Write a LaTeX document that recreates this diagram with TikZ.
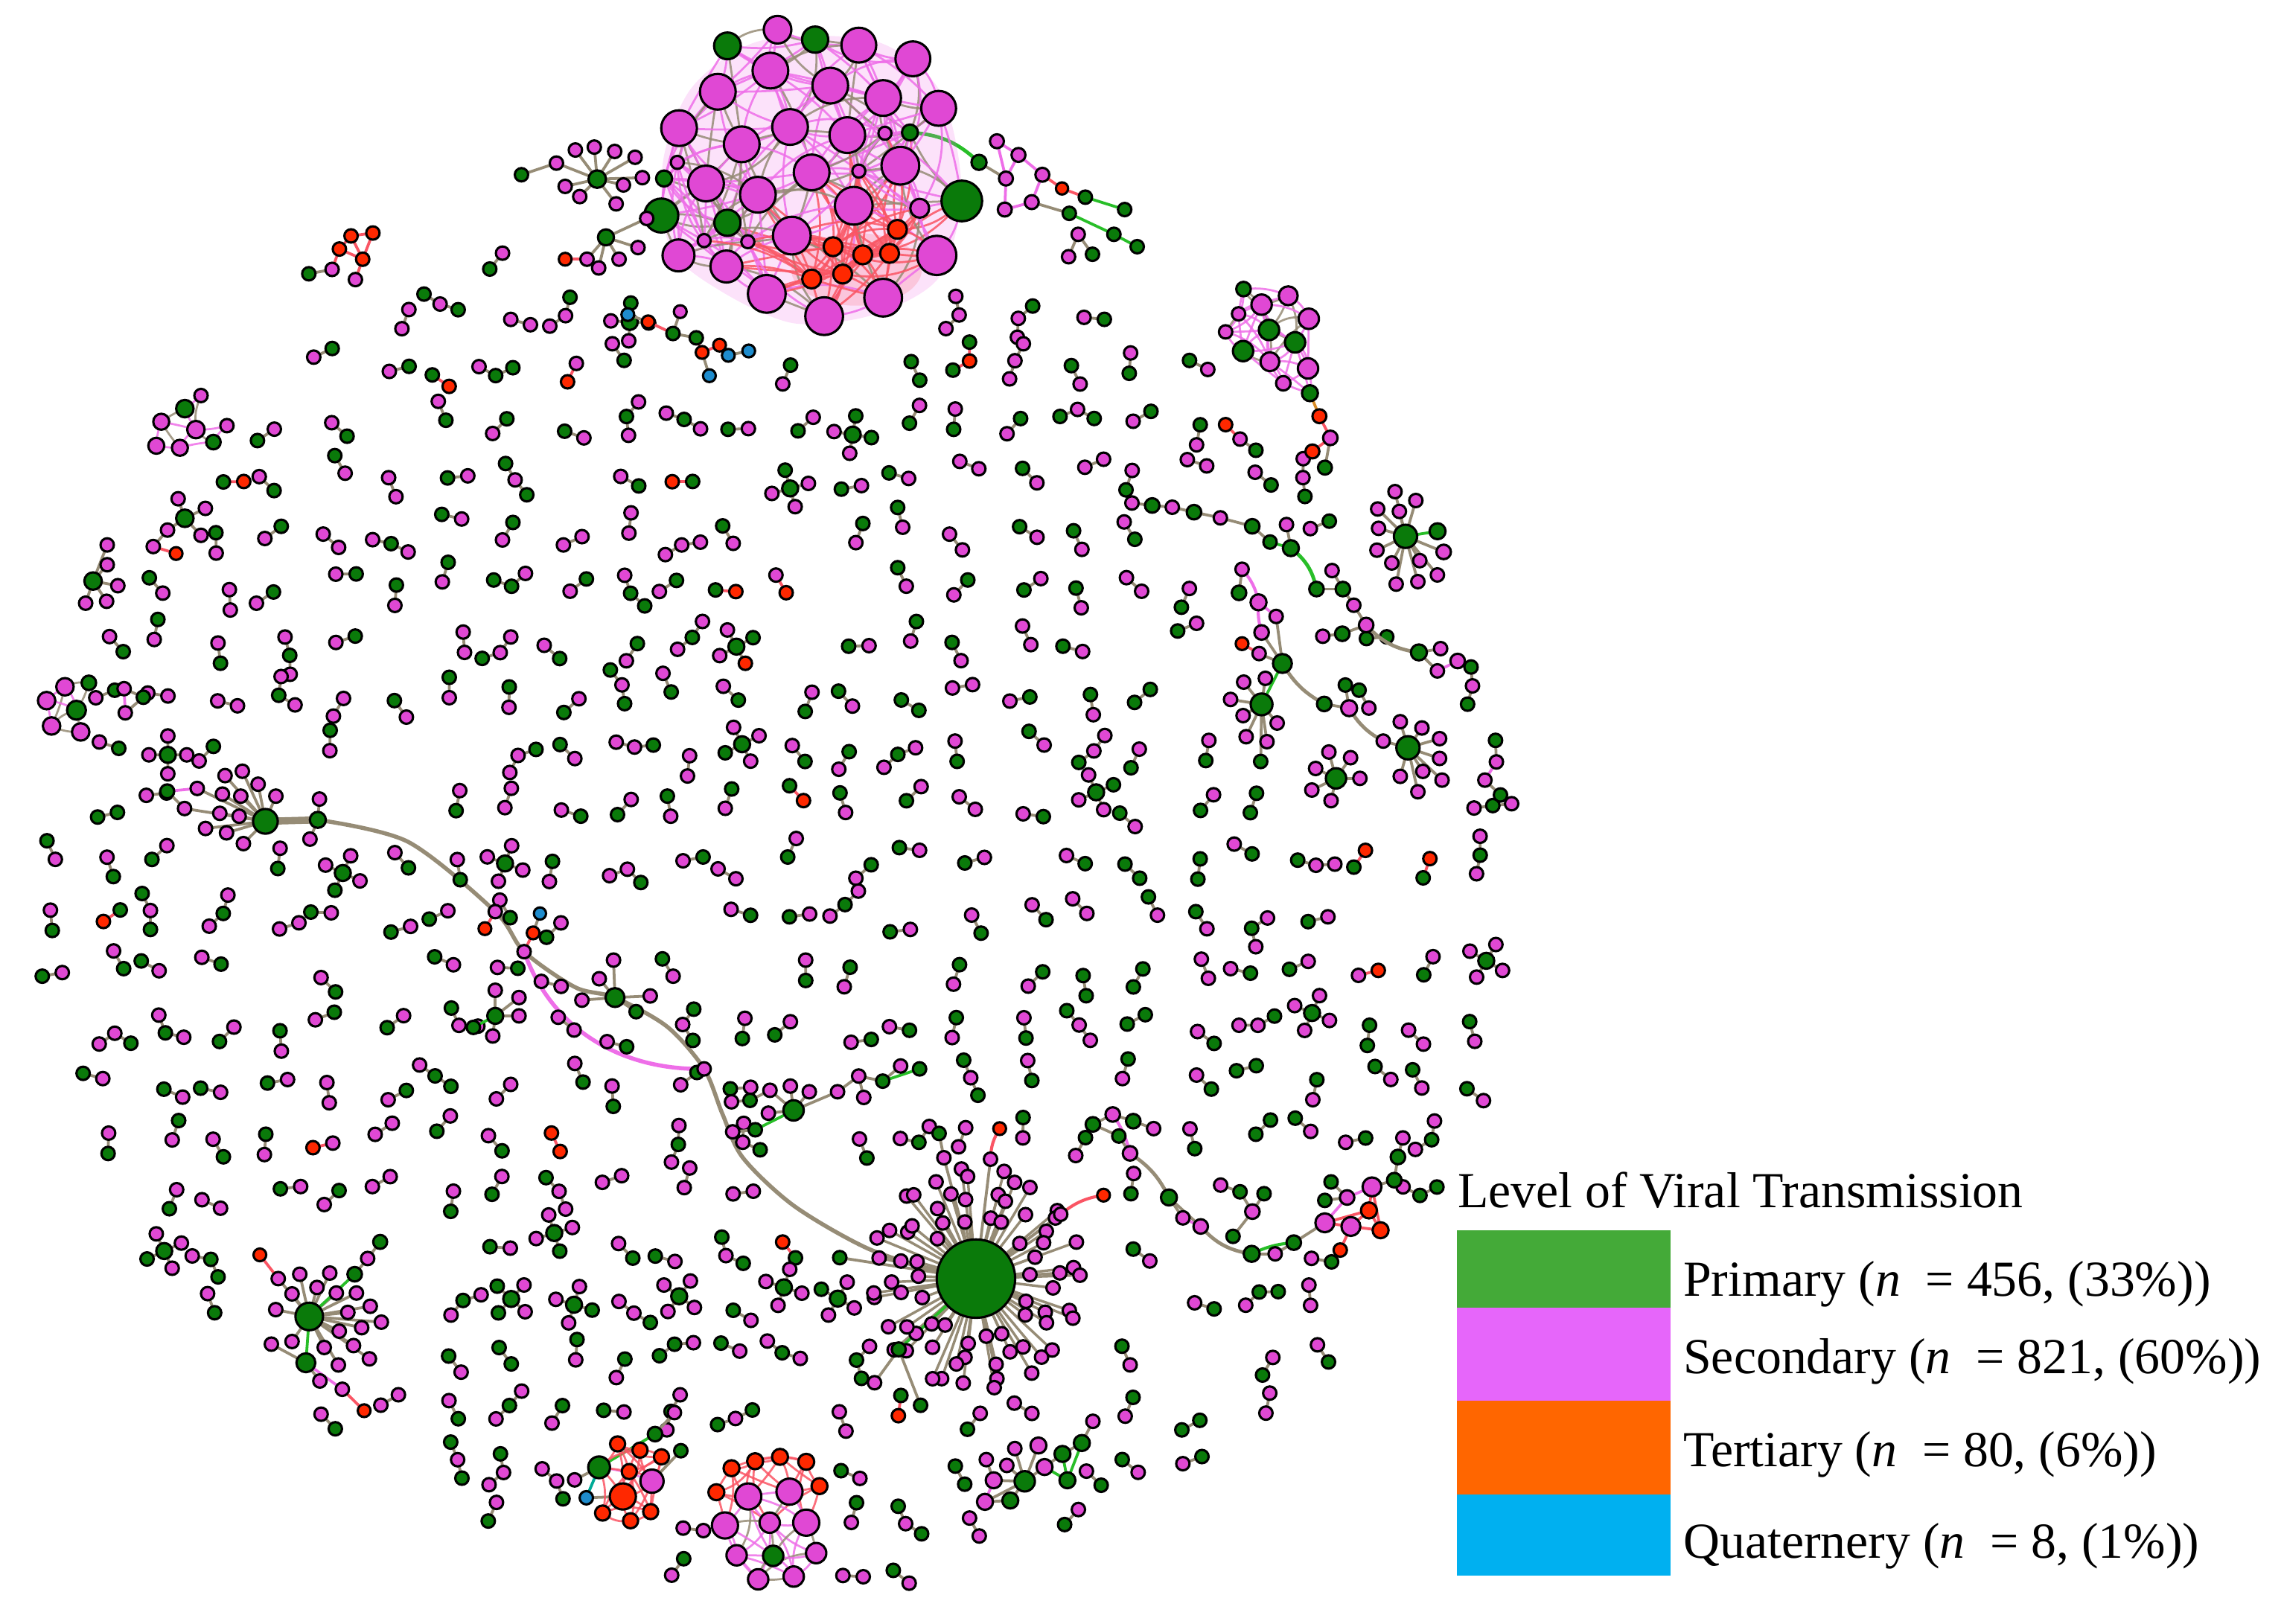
\documentclass[tikz,border=0pt]{standalone}
\usepackage{fontspec}
\setmainfont{Liberation Serif}
\definecolor{ng}{RGB}{10,122,10}
\definecolor{np}{RGB}{224,72,212}
\definecolor{nr}{RGB}{255,40,0}
\definecolor{nb}{RGB}{30,140,205}
\definecolor{eb}{RGB}{150,140,118}
\definecolor{ep}{RGB}{238,110,232}
\definecolor{er}{RGB}{250,85,100}
\definecolor{eg}{RGB}{40,190,40}
\definecolor{eo}{RGB}{215,140,40}
\definecolor{et}{RGB}{0,170,150}
\definecolor{lg}{RGB}{68,170,56}
\definecolor{lp}{RGB}{230,102,250}
\definecolor{lo}{RGB}{255,102,0}
\definecolor{lb}{RGB}{0,176,240}
% node: x, y, radius (px), colour code 1 green 2 pink 3 red 4 blue
\newcommand\nd[4]{\ifcase#4\or\def\fc{ng}\or\def\fc{np}\or\def\fc{nr}\or\def\fc{nb}\fi
  \filldraw[fill=\fc,draw=black,line width=0.45pt] (#1,#2) circle[radius=#3*0.2835pt];}
\newcommand\ndl[1]{\foreach \qx/\qy/\qr/\qc in {#1}{\nd{\qx}{\qy}{\qr}{\qc}}}
\newcommand\edl[2]{\foreach \qx/\qy/\qu/\qv in {#2}{\draw[#1,line width=0.55pt] (\qx,\qy)--(\qu,\qv);}}
\newcommand\hub[3]{\foreach \qx/\qy in {#3}{\draw[eb,line width=0.55pt] (#1,#2)--(\qx,\qy);}}
\newcommand\mesh[3]{%
 \foreach \xa/\ya/\ra/\ca [count=\i] in {#1}{%
  \foreach \xb/\yb/\rb/\cb [count=\j] in {#1}{%
   \ifnum\j>\i\relax
    \pgfmathtruncatemacro\dd{veclen(\xa-\xb,\ya-\yb)}%
    \ifnum\dd<#2\relax
     \pgfmathsetmacro\qq{rnd}\pgfmathsetmacro\bb{#3*rand}%
     \def\ec{ep}\ifdim\qq pt<0.28pt\def\ec{eb}\fi
     \ifnum\ca=3 \def\ec{er}\fi\ifnum\cb=3 \def\ec{er}\fi
     \draw[\ec,line width=0.4pt,opacity=0.85] (\xa,\ya) to[bend left=\bb] (\xb,\yb);
    \fi
   \fi}}%
 \foreach \xa/\ya/\ra/\ca in {#1}{\nd{\xa}{\ya}{\ra}{\ca}}}
\newcommand\rcol[1]{\pgfmathsetmacro\myr{rnd}%
 \ifdim\myr pt<0.45pt\def#1{1}\else\ifdim\myr pt<0.98pt\def#1{2}\else\def#1{3}\fi\fi}
\newcommand\rcolnext[2]{\pgfmathsetmacro\myr{rnd}%
 \ifnum#2=1 \ifdim\myr pt<0.82pt\def#1{2}\else\ifdim\myr pt<0.98pt\def#1{1}\else\def#1{3}\fi\fi
 \else\ifdim\myr pt<0.64pt\def#1{1}\else\ifdim\myr pt<0.975pt\def#1{2}\else\def#1{3}\fi\fi\fi}
\newcommand\edc[2]{\def\ec{eb}\ifnum#1=3 \def\ec{er}\fi\ifnum#2=3 \def\ec{er}\fi}
\newcommand\rcomp{%
 \pgfmathsetmacro\myang{360*rnd}%
 \pgfmathsetmacro\mytyp{rnd}%
 \ifdim\mytyp pt<0.70pt\relax
  \pgfmathsetmacro\pxa{\cx+7*cos(\myang)}\pgfmathsetmacro\pya{\cy+7*sin(\myang)}%
  \pgfmathsetmacro\pxb{\cx-7*cos(\myang)}\pgfmathsetmacro\pyb{\cy-7*sin(\myang)}%
  \rcol\colA\rcolnext\colB\colA\edc\colA\colB
  \draw[\ec,line width=0.55pt] (\pxa,\pya)--(\pxb,\pyb);
  \nd{\pxa}{\pya}{4.6}{\colA}\nd{\pxb}{\pyb}{4.6}{\colB}%
 \else\ifdim\mytyp pt<0.87pt\relax
  \pgfmathsetmacro\myangb{\myang+110+90*rnd}%
  \pgfmathsetmacro\pxa{\cx+13*cos(\myang)}\pgfmathsetmacro\pya{\cy+13*sin(\myang)}%
  \pgfmathsetmacro\pxb{\cx+13*cos(\myangb)}\pgfmathsetmacro\pyb{\cy+13*sin(\myangb)}%
  \rcol\colC\rcolnext\colA\colC\rcolnext\colB\colC
  \edc\colC\colA\draw[\ec,line width=0.55pt] (\cx,\cy)--(\pxa,\pya);
  \edc\colC\colB\draw[\ec,line width=0.55pt] (\cx,\cy)--(\pxb,\pyb);
  \nd{\cx}{\cy}{4.6}{\colC}\nd{\pxa}{\pya}{4.6}{\colA}\nd{\pxb}{\pyb}{4.6}{\colB}%
 \else\ifdim\mytyp pt<0.91pt\relax
  \foreach \kk in {0,1,2,3}{%
   \pgfmathsetmacro\pxa{\cx+13*cos(\myang+90*\kk)}\pgfmathsetmacro\pya{\cy+13*sin(\myang+90*\kk)}%
   \rcolnext\colA{1}%
   \draw[eb,line width=0.55pt] (\cx,\cy)--(\pxa,\pya);
   \nd{\pxa}{\pya}{4.6}{\colA}}%
  \nd{\cx}{\cy}{5.5}{1}%
 \fi\fi\fi}
\def\zones{550/115/140, 410/145/46, 725/145/60, 670/878/92, 215/905/58, 425/1015/42, 527/1045/50, 165/555/42, 218/563/16, 965/370/36, 800/350/20, 845/358/22, 885/380/26, 920/420/28, 985/452/26, 866/478/48, 966/516/36, 917/535/26, 1026/527/24, 875/235/45, 905/295/26, 851/301/16, 545/755/36, 605/740/22, 775/778/26, 812/832/22, 860/840/28, 930/830/38, 240/175/24, 470/232/38, 422/688/32, 342/697/22, 710/1008/40, 45/485/26, 90/480/16, 127/292/28, 125/360/26, 70/395/24, 360/640/18, 420/717/15}
\begin{document}
\begin{tikzpicture}[x=0.01cm,y=-0.01cm,
  lbl/.style={anchor=base west,inner sep=0pt,font=\fontsize{9.85}{12}\selectfont}]
\useasboundingbox (0,0) rectangle (1568,1115);
\pgfmathsetseed{2024}

% ---------- long connectors ----------
\draw[eb,line width=0.8pt] plot[smooth] coordinates {(218.2,563) (280,578) (340,626) (359.8,653.5) (395,678) (422.2,685) (458,705) (483.4,734) (496,765) (510,795) (545,828) (595,857) (645,874)};
\draw[ep,line width=0.8pt] (359.8,653.5) .. controls (380,710) and (430,735) .. (483.4,734);
\draw[eg,line width=0.7pt] (624.7,91) to[bend left=20] (672.1,111.5);

% ---------- random small components ----------
\foreach \gi in {0,...,25}{%
 \foreach \gj in {0,...,25}{%
  \pgfmathsetmacro\cx{32+39.5*\gi+10*rand}%
  \pgfmathsetmacro\cy{138+37.8*\gj+10*rand}%
  \pgfmathtruncatemacro\inside{(veclen((\cx-530)/505,(\cy-612)/480)<1)&&((\cx<985)||(\cy<775))}%
  \ifnum\inside=1
   \gdef\okflag{1}%
   \foreach \zx/\zy/\zr in \zones {%
    \pgfmathtruncatemacro\hit{veclen(\cx-\zx,\cy-\zy)<\zr}%
    \ifnum\hit=1 \gdef\okflag{0}\fi}%
   \ifnum\okflag=1 \rcomp\fi
  \fi}}

% ---------- top cluster ----------
\fill[ep,opacity=0.2] plot[smooth cycle] coordinates {(475,60) (522,28) (600,28) (645,62) (660,130) (645,190) (600,216) (545,222) (495,200) (460,170) (455,112)};
\fill[er,opacity=0.2] (588,185) ellipse [x radius=45*0.2835pt, y radius=25*0.2835pt];
\mesh{499.4/31.5/9.2/1, 559.6/27.2/9/1, 660.3/138/14/1, 454/148/11.7/1, 499.4/153/9/1, 624.7/91/5.5/1, 455.9/122.6/5.5/1, 533.8/20.4/9.5/2, 589.6/31/12/2, 626.7/40.4/12/2, 528.9/48.5/12.3/2, 492.8/63/12.3/2, 570/58.8/12.3/2, 606.3/67.3/12.3/2, 644.4/74.4/12/2, 466.2/88/12.3/2, 542.4/87.2/12.3/2, 509.2/99.1/12.3/2, 581.7/92.8/12.3/2, 618.1/113.8/13/2, 557.2/118.4/12.3/2, 484.7/126/12.3/2, 520.3/133.7/12.3/2, 586.1/141.3/13/2, 543.6/161.8/13/2, 465.8/175.4/11/2, 498.7/183/11/2, 526.4/201.8/13/2, 565.8/217.1/13/2, 606.3/204.4/13/2, 643.1/175.4/13.5/2, 607.5/91.5/4.5/2, 589.6/117.5/4.5/2, 631.4/143/6.5/2, 513.4/166/4.5/2, 483.4/165.2/4.5/2, 465/111.5/4.5/2, 616.1/157.5/6.5/3, 571.9/169.4/6.5/3, 592.3/175/6.5/3, 610.7/174/6.5/3, 557.2/191.6/6.5/3, 578.5/188.2/6.5/3}{80}{25}

% top-left cluster
\hub{410}{123}{382/112,395/103,408/101,422/104,436/108,388/128,398/135,428/127,441/122,423/140}
\edl{eb}{358/120/382/112}
\hub{416}{163}{403/178,411/184,425/178,438/170,444/150}
\edl{er}{388/178/403/178}
\ndl{410/123/6/1, 382/112/4.6/2, 395/103/4.6/2, 408/101/4.6/2, 422/104/4.6/2, 436/108/4.6/2, 388/128/4.6/2, 398/135/4.6/2, 428/127/4.6/2, 441/122/4.6/2, 423/140/4.6/2, 358/120/4.6/1, 416/163/5.5/1, 403/178/4.6/2, 411/184/4.6/2, 425/178/4.6/2, 438/170/4.6/2, 444/150/4.6/2, 388/178/4.4/3}

% right of top cluster
\edl{ep}{684.4/97/699.2/106.4, 699.2/106.4/690.6/122.6, 690.6/122.6/684.4/97, 699.2/106.4/715.6/120, 690.6/122.6/689.8/143.9, 715.6/120/708.3/138.8, 708.3/138.8/689.8/143.9}
\edl{eb}{672.1/111.5/690.6/122.6, 708.3/138.8/734.1/146.5, 740.2/160.9/733.6/176.3, 740.2/160.9/750/174.6}
\edl{er}{715.6/120/729.1/129.4, 729.1/129.4/745.1/135.4}
\edl{eg}{745.1/135.4/772.1/143.9, 734.1/146.5/764.7/160.9, 764.7/160.9/780.7/169.4}
\ndl{672.1/111.5/5.2/1, 684.4/97/4.8/2, 699.2/106.4/4.8/2, 690.6/122.6/4.8/2, 715.6/120/4.8/2, 689.8/143.9/4.8/2, 708.3/138.8/4.8/2, 729.1/129.4/4.2/3, 745.1/135.4/4.6/1, 772.1/143.9/4.6/1, 734.1/146.5/4.6/1, 764.7/160.9/4.6/1, 780.7/169.4/4.6/1, 740.2/160.9/4.6/2, 733.6/176.3/4.6/2, 750/174.6/4.6/1}

% top-right cluster
\edl{eo}{899.3/270/905.8/285.8}
\edl{er}{905.8/285.8/913.3/300.7, 913.3/300.7/901/310, 841.4/291.6/851.3/301.5}
\edl{eb}{913.3/300.7/909.6/321.1, 851.3/301.5/862.2/309.2}
\mesh{853.7/198.5/5/1, 884.4/203.1/6.5/2, 866.1/209.2/7/2, 850.3/215.5/4.6/2, 898.5/218.9/7/2, 871.2/226.6/7/1, 841.4/227.9/4.6/2, 889.1/235.1/7/1, 853.4/241.1/7/1, 871.8/248.4/6.5/2, 898/253/7/2, 881/263.2/5/2, 899.3/270/5.5/1}{40}{30}
\ndl{905.8/285.8/4.8/3, 913.3/300.7/5/2, 901/310/4.8/3, 909.6/321.1/4.8/1, 841.4/291.6/4.6/3, 851.3/301.5/4.6/2, 862.2/309.2/4.6/1}

% red group top-left
\edl{er}{241/162/256/160, 241/162/249/178, 256/160/249/178, 233/171/249/178, 233/171/241/162, 249/178/244/192, 233/171/228/185}
\edl{eb}{228/185/212/188}
\ndl{241/162/4.6/3, 256/160/4.6/3, 249/178/4.6/3, 233/171/4.6/3, 228/185/4.6/2, 244/192/4.6/2, 212/188/4.6/1}

% quaternary group
\edl{er}{445/221/462/229, 478/232/482/242, 482/242/494/237}
\edl{eb}{431/216/445/221, 462/229/467/214, 462/229/478/232, 494/237/500/244, 500/244/514/241, 482/242/487/258}
\ndl{431/216/4.4/4, 445/221/4.4/3, 462/229/4.6/1, 467/214/4.4/2, 478/232/4.6/1, 482/242/4.4/3, 494/237/4.4/3, 500/244/4.4/4, 514/241/4.4/4, 487/258/4.4/4}

% left edge clusters
\mesh{138/271.6/4.6/2, 126.9/280.6/6/1, 110.7/289.6/5.5/2, 134.5/295/6/2, 146.5/303.6/5/1, 155.8/292.3/4.6/2, 107.3/306.1/5.5/2, 123.5/307.5/5.5/2}{26}{20}
\hub{126.9}{355.9}{122.3/342.5,141/349.1,138/367.6,115/364}
\edl{eb}{115/364/105.2/375.3}
\edl{er}{105.2/375.3/120.9/380.1}
\ndl{126.9/355.9/6/1, 122.3/342.5/4.6/2, 141/349.1/4.6/2, 138/367.6/4.6/2, 115/364/4.6/2, 105.2/375.3/4.6/2, 120.9/380.1/4.4/3}
\hub{63.9}{399}{73.6/374.2,73.6/387.8,80.9/402.2,73.2/412.9,58.8/414.2}
\ndl{63.9/399/6/1, 73.6/374.2/4.6/2, 73.6/387.8/4.6/2, 80.9/402.2/4.6/2, 73.2/412.9/4.6/2, 58.8/414.2/4.6/2}
\mesh{44.6/471.6/6/2, 61/468.9/5/1, 32/481.1/6/2, 52.5/487.7/6.5/1, 35.4/498.5/6/2, 55.4/502.6/6/2}{30}{20}
\edl{ep}{85.2/472.9/86/489.5}
\edl{eb}{85.2/472.9/98.4/478.8, 86/489.5/98.4/478.8}
\ndl{85.2/472.9/4.6/2, 98.4/478.8/4.6/1, 86/489.5/4.6/2}

% left hub and path
\hub{182.2}{564}{135.4/541.4,154.5/532.6,166.4/529.6,177.2/538.5,189.4/546.7,152.7/545.3,165.3/546.7,126.7/555.2,150.9/558.5,164.2/560.5,141.1/568.9,155.5/571.9,167.1/579.3}
\edl{ep}{114.8/543.4/135.4/541.4}
\edl{eb}{114.8/543.4/126.7/555.2, 218.2/563/219.3/548.7, 218.2/563/212.8/576.2}
\draw[eb,line width=1.4pt] (182.2,564)--(218.2,563);
\ndl{182.2/564/8.5/1, 114.8/543.4/4.8/1, 218.2/563/5.5/1, 135.4/541.4/4.6/2, 154.5/532.6/4.6/2, 166.4/529.6/4.6/2, 177.2/538.5/4.6/2, 189.4/546.7/4.6/2, 152.7/545.3/4.6/2, 165.3/546.7/4.6/2, 126.7/555.2/4.6/2, 150.9/558.5/4.6/2, 164.2/560.5/4.6/2, 141.1/568.9/4.6/2, 155.5/571.9/4.6/2, 167.1/579.3/4.6/2, 219.3/548.7/4.6/2, 212.8/576.2/4.6/2}

% nodes along the long path
\edl{er}{340/626/332.9/637.7, 366/640.6/359.8/653.5}
\edl{eb}{366/640.6/370.7/627.3, 416.8/715.3/430.2/718.8}
\hub{422.2}{685}{421.2/659.3,411.4/672.1,446.4/683.9,399.5/686.8,436.7/694.7}
\ndl{340/626/4.6/2, 359.8/653.5/4.6/2, 332.9/637.7/4.4/3, 366/640.6/4.4/3, 370.7/627.3/4.2/4, 422.2/685/6.5/1, 421.2/659.3/4.6/2, 411.4/672.1/4.6/2, 446.4/683.9/4.6/2, 399.5/686.8/4.6/2, 436.7/694.7/4.6/1, 483.4/734/4.6/2, 416.8/715.3/4.6/2, 430.2/718.8/4.6/1}
\hub{340}{697.6}{340/680,356.3/685,356.3/697.6,338.3/711.4}
\edl{eg}{340/697.6/325/705.5}
\ndl{340/697.6/5.5/1, 340/680/4.6/2, 356.3/685/4.6/2, 356.3/697.6/4.6/2, 338.3/711.4/4.6/2, 325/705.5/4.6/1}

% chain near (545,762)
\hub{544.8}{762.5}{528.6/748.7,542.6/745.8,555.6/749.7,527.5/764.4,575/749.7}
\edl{eb}{514.9/755.6/528.6/748.7, 514.9/755.6/502.2/756.6, 518.5/775.8/503/777.2, 575/749.7/589.5/738.9, 589.5/738.9/606/742.4, 593/753.6/589.5/738.9, 606/742.4/618.3/732}
\edl{eg}{544.8/762.5/518.5/775.8, 606/742.4/631.3/734}
\ndl{544.8/762.5/7/1, 528.6/748.7/4.6/2, 542.6/745.8/4.6/2, 555.6/749.7/4.6/2, 527.5/764.4/4.6/2, 575/749.7/4.6/2, 514.9/755.6/4.6/1, 502.2/756.6/4.6/2, 518.5/775.8/4.6/1, 503/777.2/4.6/2, 589.5/738.9/4.6/2, 606/742.4/4.6/1, 593/753.6/4.6/2, 618.3/732/4.6/2, 631.3/734/4.6/1}

% bottom-left hub
\hub{212.3}{904}{191/878,205.8/875,226.4/874.2,200.5/888.5,217.6/884.1,230.9/887.9,244.7/887.9,189.3/899.3,238.8/901.2,254.2/897,261.8/907.9,248.3/911.7,232.9/914.1,222.6/925.3,242.7/924,253.6/933.1,200.5/921.2,232.3/937.3}
\edl{eg}{212.3/904/243.5/875, 212.3/904/210/935.8}
\edl{eb}{243.5/875/252.4/864.2, 252.4/864.2/261/852.8, 210/935.8/219.6/948.3, 210/935.8/186.3/923}
\edl{ep}{210/935.8/235/954}
\edl{er}{178.4/861.7/191/878, 235/954/250/968.7}
\ndl{212.3/904/9.5/1, 210/935.8/6.5/1, 178.4/861.7/4.4/3, 250/968.7/4.4/3, 243.5/875/5/1, 261/852.8/4.8/1, 252.4/864.2/4.6/2, 235/954/4.6/2, 219.6/948.3/4.6/2, 186.3/923/4.6/2, 191/878/4.6/2, 205.8/875/4.6/2, 226.4/874.2/4.6/2, 200.5/888.5/4.6/2, 217.6/884.1/4.6/2, 230.9/887.9/4.6/2, 244.7/887.9/4.6/2, 189.3/899.3/4.6/2, 238.8/901.2/4.6/2, 254.2/897/4.6/2, 261.8/907.9/4.6/2, 248.3/911.7/4.6/2, 232.9/914.1/4.6/2, 222.6/925.3/4.6/2, 242.7/924/4.6/2, 253.6/933.1/4.6/2, 200.5/921.2/4.6/2, 232.3/937.3/4.6/2}

% bottom red cluster
\edl{eg}{411.3/1007.6/449.7/984.8}
\edl{eb}{449.7/984.8/463/970, 447.6/1017.1/467.4/996.2, 394.5/1016.2/411.3/1007.6}
\edl{et}{402.5/1028.5/411.3/1007.6}
\edl{eb}{402.5/1028.5/427.6/1027.6}
\mesh{411.3/1007.6/7.5/1, 427.6/1027.6/9/3, 447.6/1017.1/8/2, 424/991.5/5.2/3, 439.4/995.8/5.2/3, 454.1/1000.4/5.2/3, 432/1010.5/5.2/3, 413.7/1039/5.2/3, 432.9/1044.3/5.2/3, 446.7/1038/5.2/3}{40}{25}
\ndl{402.5/1028.5/4.6/4, 394.5/1016.2/4.6/2, 449.7/984.8/5/1, 463/970/4.6/2, 467.4/996.2/4.6/1}

% bottom pink cluster
\mesh{502.2/1008.2/5.5/3, 518.4/1003.4/5.5/3, 535.5/1000.4/5.5/3, 553.5/1003.8/5.5/3, 491.8/1024.7/5.5/3, 562.6/1020.5/5.5/3, 513.7/1027.6/9/2, 542/1024.3/9/2, 497.7/1047.5/9/2, 528.4/1045.6/7/2, 553.5/1045.6/9/2, 505.7/1068/7/2, 560.3/1066.5/7/2, 520.5/1084.5/7/2, 544.9/1082.6/7/2, 530.8/1068.4/7/1}{45}{25}

% bottom right small cluster
\hub{703.5}{1017.2}{682.2/1016.5,691.2/1006.3,696.7/994.7,712.9/992.6,717.1/1007.4,693.6/1030.4,676.2/1031.3}
\edl{eb}{682.2/1016.5/677.1/1002.3, 676.2/1031.3/693.6/1030.4, 729.4/998.4/717.1/1007.4, 729.4/998.4/742.7/990.9, 742.7/990.9/750.3/976}
\edl{ep}{676.2/1031.3/682.2/1016.5}
\edl{eg}{717.1/1007.4/732.8/1016.5, 742.7/990.9/732.8/1016.5, 729.4/998.4/732.8/1016.5}
\ndl{703.5/1017.2/7/1, 682.2/1016.5/5.5/2, 691.2/1006.3/4.6/2, 696.7/994.7/4.6/2, 712.9/992.6/5.5/2, 717.1/1007.4/5.5/2, 693.6/1030.4/5.5/1, 676.2/1031.3/5.5/2, 677.1/1002.3/4.6/2, 729.4/998.4/5.5/1, 742.7/990.9/5.5/1, 750.3/976/4.6/2, 732.8/1016.5/5.5/1}

% big bottom hub
\foreach \rad/\nn/\off in {40/18/0,55/25/7,70/31/3}{%
 \foreach \k in {1,...,\nn}{%
  \pgfmathsetmacro\bha{\off+360*\k/\nn+5*sin(\k*137)}%
  \pgfmathsetmacro\bhr{\rad+3*cos(\k*211)}%
  \pgfmathsetmacro\lx{670+\bhr*cos(\bha)}\pgfmathsetmacro\ly{878+1.05*\bhr*sin(\bha)}%
  \draw[eb,line width=0.5pt] (670,878)--(\lx,\ly);}}
\edl{eb}{648/795/644.7/778.3, 648/795/670/878, 680/796/670/878, 728.2/833.8/670/878, 576.5/863.6/670/878, 617/926.6/600.4/949.5, 617/926.6/632/965}
\edl{eg}{617/926.6/670/878}
\draw[er,line width=0.6pt] (680,796) to[bend left=15] (686.3,775);
\draw[er,line width=0.6pt] (728.2,833.8) to[bend left=15] (757.6,820.7);
\nd{670}{878}{27}{1}
\foreach \rad/\nn/\off in {40/18/0,55/25/7,70/31/3}{%
 \foreach \k in {1,...,\nn}{%
  \pgfmathsetmacro\bha{\off+360*\k/\nn+5*sin(\k*137)}%
  \pgfmathsetmacro\bhr{\rad+3*cos(\k*211)}%
  \pgfmathsetmacro\lx{670+\bhr*cos(\bha)}\pgfmathsetmacro\ly{878+1.05*\bhr*sin(\bha)}%
  \nd{\lx}{\ly}{4.6}{2}}}
\ndl{648/795/4.6/2, 644.7/778.3/4.6/1, 680/796/4.6/2, 686.3/775/4.4/3, 728.2/833.8/4.6/2, 757.6/820.7/4.4/3, 576.5/863.6/4.6/1, 617/926.6/4.8/1, 600.4/949.5/4.6/2, 632/965/4.6/1}

% right side: hub A and arc chain
\hub{964.9}{368.3}{957.7/337.6,972/343.7,945.8/349.5,960.7/351.2,946.4/362.8,945.3/377.8,955.5/386.6,974.7/385,991.1/379,986.8/394.8,973.4/399.4,958.5/401.1}
\edl{eg}{964.9/368.3/986.9/364.8, 871.9/372.2/886.2/376.4}
\edl{eb}{777.1/345.4/791/347.1, 791/347.1/804.8/348.3, 804.8/348.3/819.7/351.7, 819.7/351.7/837.8/355.6, 837.8/355.6/859.7/361.4, 859.7/361.4/871.9/372.2, 883.2/360.2/886.2/376.4, 903.8/404.5/921.9/404.5, 914.5/391.8/921.9/404.5, 921.9/404.5/929.4/415.6, 929.4/415.6/937.9/429.2, 937.9/429.2/921.5/435.2, 921.5/435.2/908.1/436.9, 974.1/448/989/445.4, 974.1/448/986.8/460.7}
\edl{ep}{986.8/460.7/1000.7/453.9}
\draw[eg,line width=0.7pt] (886.2,376.4) to[bend left=20] (903.8,404.5);
\draw[eb,line width=0.7pt] (937.9,429.2) to[bend right=20] (974.1,448);
\ndl{964.9/368.3/8/1, 986.9/364.8/5.5/1, 957.7/337.6/4.6/2, 972/343.7/4.6/2, 945.8/349.5/4.6/2, 960.7/351.2/4.6/2, 946.4/362.8/4.6/2, 945.3/377.8/4.6/2, 955.5/386.6/4.6/2, 974.7/385/4.6/2, 991.1/379/5/2, 986.8/394.8/4.6/2, 973.4/399.4/4.6/2, 958.5/401.1/4.6/2, 777.1/345.4/4.6/2, 791/347.1/5/1, 804.8/348.3/4.6/2, 819.7/351.7/5/1, 837.8/355.6/4.6/2, 859.7/361.4/5/1, 871.9/372.2/4.6/1, 883.2/360.2/4.6/2, 886.2/376.4/5.5/1, 903.8/404.5/5/1, 921.9/404.5/5/1, 914.5/391.8/4.6/2, 929.4/415.6/4.6/2, 937.9/429.2/5/2, 921.5/435.2/5/1, 908.1/436.9/4.6/2, 974.1/448/5.5/1, 989/445.4/4.6/2, 1000.7/453.9/5/2, 986.8/460.7/4.6/2}

% right side: second chain and hubs
\draw[ep,line width=0.6pt] (852.7,390.9) to[bend left=15] (864,413.6);
\draw[ep,line width=0.6pt] (864,413.6) to[bend right=10] (866.1,434.3);
\edl{eb}{852.7/390.9/850.6/407.1, 876.1/423.3/880.4/455.6, 866.1/434.3/880.4/455.6, 864.4/448.8/880.4/455.6, 909.1/483.4/926.2/486.3, 923.6/470.4/926.2/486.3, 949.6/508.9/966.6/513.5, 1026.7/508.4/1027.3/523.2, 1019.4/535.7/1030.1/545.9}
\edl{ep}{864/413.6/876.1/423.3, 1027.3/523.2/1019.4/535.7}
\edl{er}{852.7/442/864.4/448.8}
\edl{eg}{880.4/455.6/866.1/483.7}
\draw[eb,line width=0.7pt] (880.4,455.6) to[bend right=15] (909.1,483.4);
\draw[eb,line width=0.7pt] (926.2,486.3) to[bend right=15] (949.6,508.9);
\hub{866.1}{483.7}{853.8/468.4,868.7/465.8,844.8/480.3,853.4/491.4,876.8/496.5,855.5/505.9,869.8/509.3,865.5/522.9}
\hub{966.6}{513.5}{961.3/495.6,976.2/499.9,988.3/507.2,988.3/520.8,976.8/529.7,961.3/533.1,990/535.7,973.4/543.7}
\hub{917.2}{534.5}{912.3/516.4,927.2/520.3,903.2/527.7,933.6/534.5,900.6/542.5,913.8/549.8}
\ndl{852.7/390.9/4.6/2, 850.6/407.1/5/1, 864/413.6/5.5/2, 876.1/423.3/4.6/2, 866.1/434.3/5/2, 852.7/442/4.4/3, 864.4/448.8/4.6/2, 880.4/455.6/6.5/1, 866.1/483.7/7.5/1, 853.8/468.4/4.6/2, 868.7/465.8/4.6/2, 844.8/480.3/4.6/2, 853.4/491.4/4.6/2, 876.8/496.5/4.6/2, 855.5/505.9/4.6/2, 869.8/509.3/4.6/2, 865.5/522.9/4.6/1, 909.1/483.4/5/1, 926.2/486.3/5.5/2, 923.6/470.4/4.6/1, 949.6/508.9/4.6/2, 966.6/513.5/8/1, 961.3/495.6/4.6/2, 976.2/499.9/4.6/2, 988.3/507.2/4.6/2, 988.3/520.8/4.6/2, 976.8/529.7/4.6/2, 961.3/533.1/4.6/2, 990/535.7/4.6/2, 973.4/543.7/4.6/2, 917.2/534.5/7/1, 912.3/516.4/4.6/2, 927.2/520.3/4.6/2, 903.2/527.7/4.6/2, 933.6/534.5/4.6/2, 900.6/542.5/4.6/2, 913.8/549.8/4.6/2, 1026.7/508.4/4.6/1, 1027.3/523.2/4.6/2, 1019.4/535.7/4.6/2, 1030.1/545.9/4.6/1}

% bottom-right path and cluster
\edl{eb}{750.3/772.1/763.9/765.3, 763.9/765.3/778/769.9, 778/769.9/792/775, 750.3/772.1/768.1/780.1, 768.1/780.1/775.8/792, 802.5/822.3/812.1/836.3, 802.5/822.3/824.3/842.2, 859.3/861/875.4/861, 875.4/861/888.2/853.3, 888.2/853.3/909.5/839.7, 913.8/811.6/924.8/822.3, 909.5/824.3/924.8/822.3, 941.9/815/957.2/810.4, 957.2/810.4/959.7/794.5, 959.7/794.5/963.1/781.4, 838/813.8/851.3/818.4, 851.3/818.4/859.8/832, 867.8/819.7/859.8/832, 846.5/849/859.8/832}
\edl{ep}{812.1/836.3/824.3/842.2, 924.8/822.3/909.5/839.7, 924.8/822.3/941.9/815}
\draw[ep,line width=0.6pt] (763.9,765.3) to[bend left=10] (775.8,792);
\draw[eb,line width=0.7pt] (775.8,792) to[bend left=15] (802.5,822.3);
\draw[eb,line width=0.7pt] (824.3,842.2) to[bend right=20] (859.3,861);
\draw[eg,line width=0.6pt] (859.3,861) to[bend left=10] (888.2,853.3);
\edl{er}{909.5/839.7/927.4/842.2, 927.4/842.2/939.8/831.2, 927.4/842.2/947.8/844.8, 939.8/831.2/947.8/844.8, 941.9/815/939.8/831.2, 941.9/815/947.8/844.8, 927.4/842.2/920.1/858.4, 909.5/839.7/939.8/831.2}
\ndl{750.3/772.1/5/1, 763.9/765.3/5/2, 778/769.9/5/1, 792/775/4.6/2, 768.1/780.1/4.6/1, 775.8/792/5/2, 802.5/822.3/5.5/1, 812.1/836.3/4.6/2, 824.3/842.2/5/2, 859.3/861/5.5/1, 875.4/861/4.6/2, 888.2/853.3/5/1, 909.5/839.7/6.5/2, 927.4/842.2/6.5/2, 939.8/831.2/5.5/3, 947.8/844.8/5.5/3, 920.1/858.4/4.6/3, 941.9/815/6.5/2, 957.2/810.4/5/1, 959.7/794.5/5/1, 963.1/781.4/4.6/2, 924.8/822.3/5/2, 913.8/811.6/4.6/1, 909.5/824.3/4.6/1, 838/813.8/4.6/2, 851.3/818.4/4.6/1, 867.8/819.7/4.6/1, 859.8/832/5/2, 846.5/849/4.6/1}

% ---------- legend ----------
\node[lbl] (title) at (1000,829) {Level of Viral Transmission};
\fill[lg] (1000,845) rectangle (1147,898);
\fill[lp] (1000,898) rectangle (1147,962);
\fill[lo] (1000,962) rectangle (1147,1026);
\fill[lb] (1000,1026) rectangle (1147,1082);
\node[lbl] (prim) at (1155,890) {Primary (\textit{n}~~= 456, (33\%))};
\node[lbl] (sec) at (1155,943) {Secondary (\textit{n}~~= 821, (60\%))};
\node[lbl] (ter) at (1155,1007) {Tertiary (\textit{n}~~= 80, (6\%))};
\node[lbl] (qua) at (1155,1070) {Quaternery (\textit{n}~~= 8, (1\%))};
\end{tikzpicture}
\end{document}
